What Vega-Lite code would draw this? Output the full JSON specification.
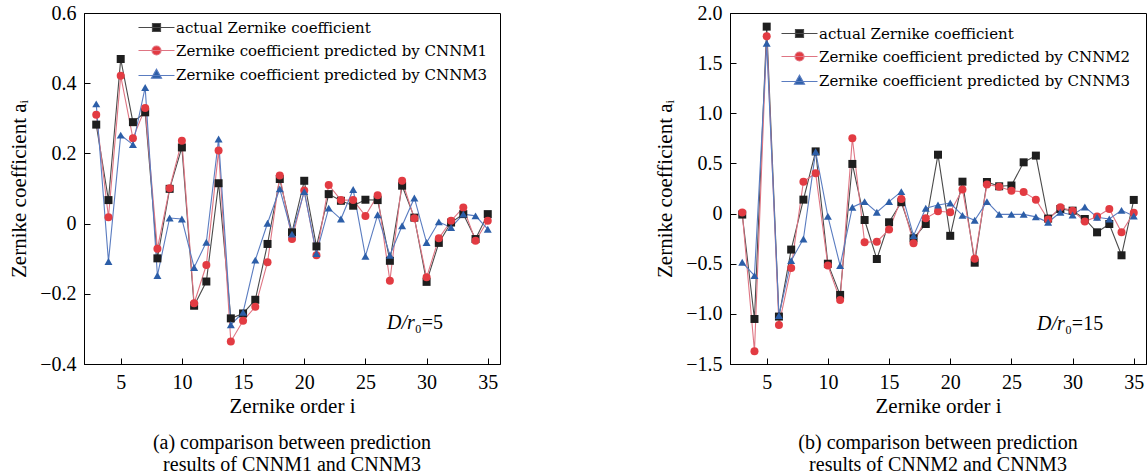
{
  "$schema": "https://vega.github.io/schema/vega-lite/v6.json",
  "background": "white",
  "bounds": "flush",
  "spacing": 230,
  "padding": {"left": 8, "top": 2, "right": 2, "bottom": 0},
  "config": {
    "font": "Liberation Serif",
    "view": {"stroke": "#000", "strokeWidth": 1},
    "axis": {
      "domainColor": "#000", "tickColor": "#000", "labelColor": "#000", "titleColor": "#000",
      "labelFont": "Liberation Serif", "titleFont": "Liberation Serif",
      "labelFontSize": 20, "titleFontSize": 21, "titleFontWeight": "normal",
      "grid": false, "tickSize": -6, "labelPadding": 14, "domainWidth": 1
    },
    "title": {
      "orient": "bottom", "anchor": "middle", "font": "Liberation Serif", "fontSize": 20,
      "fontWeight": "normal", "color": "#000", "offset": 17, "lineHeight": 22
    },
    "legend": {
      "orient": "none", "labelFont": "DejaVu Serif", "labelFontSize": 15, "labelLimit": 0,
      "labelColor": "#000", "symbolSize": 100, "symbolStrokeWidth": 1.2, "labelOffset": 12,
      "rowPadding": 7, "padding": 0, "symbolOpacity": 1
    }
  },
  "resolve": {
    "scale": {"fill": "independent", "stroke": "independent", "shape": "independent"},
    "legend": {"fill": "independent", "stroke": "independent", "shape": "independent"}
  },
  "hconcat": [
    {
      "width": 416,
      "height": 351,
      "title": {"text": ["(a) comparison between prediction", "results of CNNM1 and CNNM3"]},
      "data": {"values": [
        {"i": 3, "actual": 0.282, "CNNM1": 0.310, "CNNM3": 0.341},
        {"i": 4, "actual": 0.067, "CNNM1": 0.018, "CNNM3": -0.108},
        {"i": 5, "actual": 0.469, "CNNM1": 0.421, "CNNM3": 0.252},
        {"i": 6, "actual": 0.289, "CNNM1": 0.243, "CNNM3": 0.225},
        {"i": 7, "actual": 0.317, "CNNM1": 0.329, "CNNM3": 0.388},
        {"i": 8, "actual": -0.099, "CNNM1": -0.072, "CNNM3": -0.148},
        {"i": 9, "actual": 0.099, "CNNM1": 0.101, "CNNM3": 0.016},
        {"i": 10, "actual": 0.217, "CNNM1": 0.236, "CNNM3": 0.013},
        {"i": 11, "actual": -0.234, "CNNM1": -0.227, "CNNM3": -0.125},
        {"i": 12, "actual": -0.165, "CNNM1": -0.118, "CNNM3": -0.053},
        {"i": 13, "actual": 0.115, "CNNM1": 0.208, "CNNM3": 0.241},
        {"i": 14, "actual": -0.270, "CNNM1": -0.336, "CNNM3": -0.288},
        {"i": 15, "actual": -0.256, "CNNM1": -0.277, "CNNM3": -0.253},
        {"i": 16, "actual": -0.217, "CNNM1": -0.237, "CNNM3": -0.104},
        {"i": 17, "actual": -0.058, "CNNM1": -0.110, "CNNM3": 0.001},
        {"i": 18, "actual": 0.127, "CNNM1": 0.137, "CNNM3": 0.099},
        {"i": 19, "actual": -0.025, "CNNM1": -0.044, "CNNM3": -0.030},
        {"i": 20, "actual": 0.122, "CNNM1": 0.094, "CNNM3": 0.091},
        {"i": 21, "actual": -0.065, "CNNM1": -0.090, "CNNM3": -0.085},
        {"i": 22, "actual": 0.084, "CNNM1": 0.110, "CNNM3": 0.044},
        {"i": 23, "actual": 0.065, "CNNM1": 0.067, "CNNM3": 0.013},
        {"i": 24, "actual": 0.051, "CNNM1": 0.067, "CNNM3": 0.097},
        {"i": 25, "actual": 0.068, "CNNM1": 0.022, "CNNM3": -0.093},
        {"i": 26, "actual": 0.067, "CNNM1": 0.081, "CNNM3": 0.025},
        {"i": 27, "actual": -0.106, "CNNM1": -0.163, "CNNM3": -0.090},
        {"i": 28, "actual": 0.108, "CNNM1": 0.122, "CNNM3": -0.006},
        {"i": 29, "actual": 0.017, "CNNM1": 0.015, "CNNM3": 0.073},
        {"i": 30, "actual": -0.166, "CNNM1": -0.153, "CNNM3": -0.054},
        {"i": 31, "actual": -0.055, "CNNM1": -0.042, "CNNM3": 0.005},
        {"i": 32, "actual": 0.003, "CNNM1": 0.008, "CNNM3": -0.011},
        {"i": 33, "actual": 0.027, "CNNM1": 0.046, "CNNM3": 0.027},
        {"i": 34, "actual": -0.044, "CNNM1": -0.049, "CNNM3": 0.022},
        {"i": 35, "actual": 0.027, "CNNM1": 0.008, "CNNM3": -0.016}
      ]},
      "encoding": {
        "x": {"field": "i", "type": "quantitative",
          "scale": {"domain": [2, 36], "nice": false, "zero": false},
          "axis": {"values": [5, 10, 15, 20, 25, 30, 35], "title": "Zernike order i", "titlePadding": 3}},
        "y": {"field": "value", "type": "quantitative",
          "scale": {"domain": [-0.4, 0.6], "nice": false, "zero": false},
          "axis": {"values": [-0.4, -0.2, 0, 0.2, 0.4, 0.6], "labelExpr": "datum.value == 0 ? '0' : format(datum.value, '.1f')", "title": "Zernike coefficient aᵢ", "titlePadding": 10}}
      },
      "resolve": {"scale": {"fill": "independent", "stroke": "independent", "shape": "independent"}},
      "layer": [
        {
          "transform": [{"fold": ["actual", "CNNM1", "CNNM3"], "as": ["key", "value"]}],
          "mark": {"type": "line", "strokeWidth": 1.1},
          "encoding": {
            "stroke": {"field": "key", "type": "nominal",
              "scale": {"domain": ["actual", "CNNM1", "CNNM3"], "range": ["#4a4a4a", "#df7583", "#5a7cc0"]},
              "legend": null}
          }
        },
        {
          "transform": [{"fold": ["actual", "CNNM1", "CNNM3"], "as": ["key", "value"]}],
          "mark": {"type": "point", "filled": true, "size": 64, "opacity": 1},
          "encoding": {
            "fill": {"field": "key", "type": "nominal",
              "scale": {"domain": ["actual", "CNNM1", "CNNM3"], "range": ["#1e1e1e", "#e23b42", "#2c5ea8"]},
              "legend": null},
            "shape": {"field": "key", "type": "nominal",
              "scale": {"domain": ["actual", "CNNM1", "CNNM3"], "range": ["square", "circle", "triangle-up"]},
              "legend": null}
          }
        },
        {
          "transform": [{"fold": ["actual", "CNNM1", "CNNM3"], "as": ["key", "value"]}, {"filter": "false"}],
          "mark": {"type": "point", "filled": true, "opacity": 1},
          "encoding": {
            "fill": {"field": "key", "type": "nominal",
              "scale": {"domain": ["actual", "CNNM1", "CNNM3"], "range": ["#1e1e1e", "#e23b42", "#2c5ea8"]},
              "legend": {"title": null, "legendX": 65, "legendY": 7,
                "labelExpr": "datum.label == 'actual' ? 'actual Zernike coefficient' : 'Zernike coefficient predicted by ' + datum.label"}},
            "stroke": {"field": "key", "type": "nominal",
              "scale": {"domain": ["actual", "CNNM1", "CNNM3"], "range": ["#4a4a4a", "#df7583", "#5a7cc0"]},
              "legend": {"title": null, "legendX": 65, "legendY": 7,
                "labelExpr": "datum.label == 'actual' ? 'actual Zernike coefficient' : 'Zernike coefficient predicted by ' + datum.label"}},
            "shape": {"field": "key", "type": "nominal",
              "scale": {"domain": ["actual", "CNNM1", "CNNM3"], "range": [
                "M-3.6,0H3.6M-0.8,-0.8H0.8V0.8H-0.8Z",
                "M-3.6,0H3.6M-0.9,0A0.9,0.9,0,1,1,0.9,0A0.9,0.9,0,1,1,-0.9,0Z",
                "M-3.6,0.2H3.6M0,-1.05L1,0.75L-1,0.75Z"]},
              "legend": {"title": null, "legendX": 65, "legendY": 7,
                "labelExpr": "datum.label == 'actual' ? 'actual Zernike coefficient' : 'Zernike coefficient predicted by ' + datum.label"}}
          }
        },
        {
          "data": {"values": [{"i": 29.04, "value": -0.30, "t": "D/r"}]},
          "mark": {"type": "text", "align": "right", "baseline": "alphabetic", "fontSize": 20, "fontStyle": "italic", "font": "Liberation Serif", "color": "#000"},
          "encoding": {"text": {"field": "t"}}
        },
        {
          "data": {"values": [{"i": 29.04, "value": -0.30, "t": "₀=5"}]},
          "mark": {"type": "text", "align": "left", "baseline": "alphabetic", "fontSize": 20, "font": "Liberation Serif", "color": "#000"},
          "encoding": {"text": {"field": "t"}}
        }
      ]
    },
    {
      "width": 416,
      "height": 351,
      "title": {"text": ["(b) comparison between prediction", "results of CNNM2 and CNNM3"]},
      "data": {"values": [
        {"i": 3, "actual": -0.010, "CNNM2": 0.010, "CNNM3": -0.486},
        {"i": 4, "actual": -1.051, "CNNM2": -1.373, "CNNM3": -0.619},
        {"i": 5, "actual": 1.864, "CNNM2": 1.767, "CNNM3": 1.698},
        {"i": 6, "actual": -1.027, "CNNM2": -1.110, "CNNM3": -1.017},
        {"i": 7, "actual": -0.359, "CNNM2": -0.542, "CNNM3": -0.469},
        {"i": 8, "actual": 0.139, "CNNM2": 0.318, "CNNM3": -0.253},
        {"i": 9, "actual": 0.620, "CNNM2": 0.402, "CNNM3": 0.617},
        {"i": 10, "actual": -0.500, "CNNM2": -0.519, "CNNM3": -0.027},
        {"i": 11, "actual": -0.811, "CNNM2": -0.861, "CNNM3": -0.519},
        {"i": 12, "actual": 0.495, "CNNM2": 0.751, "CNNM3": 0.063},
        {"i": 13, "actual": -0.064, "CNNM2": -0.286, "CNNM3": 0.119},
        {"i": 14, "actual": -0.453, "CNNM2": -0.280, "CNNM3": 0.013},
        {"i": 15, "actual": -0.087, "CNNM2": -0.160, "CNNM3": 0.119},
        {"i": 16, "actual": 0.113, "CNNM2": 0.146, "CNNM3": 0.219},
        {"i": 17, "actual": -0.247, "CNNM2": -0.296, "CNNM3": -0.220},
        {"i": 18, "actual": -0.104, "CNNM2": -0.047, "CNNM3": 0.053},
        {"i": 19, "actual": 0.587, "CNNM2": 0.023, "CNNM3": 0.086},
        {"i": 20, "actual": -0.222, "CNNM2": 0.013, "CNNM3": 0.105},
        {"i": 21, "actual": 0.318, "CNNM2": 0.240, "CNNM3": -0.018},
        {"i": 22, "actual": -0.490, "CNNM2": -0.450, "CNNM3": -0.067},
        {"i": 23, "actual": 0.315, "CNNM2": 0.290, "CNNM3": 0.119},
        {"i": 24, "actual": 0.272, "CNNM2": 0.267, "CNNM3": -0.008},
        {"i": 25, "actual": 0.280, "CNNM2": 0.228, "CNNM3": -0.008},
        {"i": 26, "actual": 0.511, "CNNM2": 0.216, "CNNM3": -0.008},
        {"i": 27, "actual": 0.578, "CNNM2": 0.139, "CNNM3": -0.033},
        {"i": 28, "actual": -0.050, "CNNM2": -0.060, "CNNM3": -0.087},
        {"i": 29, "actual": 0.046, "CNNM2": 0.063, "CNNM3": 0.013},
        {"i": 30, "actual": 0.029, "CNNM2": 0.029, "CNNM3": -0.014},
        {"i": 31, "actual": -0.054, "CNNM2": -0.080, "CNNM3": 0.066},
        {"i": 32, "actual": -0.187, "CNNM2": -0.030, "CNNM3": -0.037},
        {"i": 33, "actual": -0.104, "CNNM2": 0.046, "CNNM3": -0.054},
        {"i": 34, "actual": -0.416, "CNNM2": -0.187, "CNNM3": 0.032},
        {"i": 35, "actual": 0.136, "CNNM2": 0.008, "CNNM3": -0.025}
      ]},
      "encoding": {
        "x": {"field": "i", "type": "quantitative",
          "scale": {"domain": [2, 36], "nice": false, "zero": false},
          "axis": {"values": [5, 10, 15, 20, 25, 30, 35], "title": "Zernike order i", "titlePadding": 3}},
        "y": {"field": "value", "type": "quantitative",
          "scale": {"domain": [-1.5, 2.0], "nice": false, "zero": false},
          "axis": {"values": [-1.5, -1.0, -0.5, 0, 0.5, 1.0, 1.5, 2.0], "labelExpr": "datum.value == 0 ? '0' : format(datum.value, '.1f')", "title": "Zernike coefficient aᵢ", "titlePadding": 10}}
      },
      "resolve": {"scale": {"fill": "independent", "stroke": "independent", "shape": "independent"}},
      "layer": [
        {
          "transform": [{"fold": ["actual", "CNNM2", "CNNM3"], "as": ["key", "value"]}],
          "mark": {"type": "line", "strokeWidth": 1.1},
          "encoding": {
            "stroke": {"field": "key", "type": "nominal",
              "scale": {"domain": ["actual", "CNNM2", "CNNM3"], "range": ["#4a4a4a", "#df7583", "#5a7cc0"]},
              "legend": null}
          }
        },
        {
          "transform": [{"fold": ["actual", "CNNM2", "CNNM3"], "as": ["key", "value"]}],
          "mark": {"type": "point", "filled": true, "size": 64, "opacity": 1},
          "encoding": {
            "fill": {"field": "key", "type": "nominal",
              "scale": {"domain": ["actual", "CNNM2", "CNNM3"], "range": ["#1e1e1e", "#e23b42", "#2c5ea8"]},
              "legend": null},
            "shape": {"field": "key", "type": "nominal",
              "scale": {"domain": ["actual", "CNNM2", "CNNM3"], "range": ["square", "circle", "triangle-up"]},
              "legend": null}
          }
        },
        {
          "transform": [{"fold": ["actual", "CNNM2", "CNNM3"], "as": ["key", "value"]}, {"filter": "false"}],
          "mark": {"type": "point", "filled": true, "opacity": 1},
          "encoding": {
            "fill": {"field": "key", "type": "nominal",
              "scale": {"domain": ["actual", "CNNM2", "CNNM3"], "range": ["#1e1e1e", "#e23b42", "#2c5ea8"]},
              "legend": {"title": null, "legendX": 62, "legendY": 13,
                "labelExpr": "datum.label == 'actual' ? 'actual Zernike coefficient' : 'Zernike coefficient predicted by ' + datum.label"}},
            "stroke": {"field": "key", "type": "nominal",
              "scale": {"domain": ["actual", "CNNM2", "CNNM3"], "range": ["#4a4a4a", "#df7583", "#5a7cc0"]},
              "legend": {"title": null, "legendX": 62, "legendY": 13,
                "labelExpr": "datum.label == 'actual' ? 'actual Zernike coefficient' : 'Zernike coefficient predicted by ' + datum.label"}},
            "shape": {"field": "key", "type": "nominal",
              "scale": {"domain": ["actual", "CNNM2", "CNNM3"], "range": [
                "M-3.6,0H3.6M-0.8,-0.8H0.8V0.8H-0.8Z",
                "M-3.6,0H3.6M-0.9,0A0.9,0.9,0,1,1,0.9,0A0.9,0.9,0,1,1,-0.9,0Z",
                "M-3.6,0.2H3.6M0,-1.05L1,0.75L-1,0.75Z"]},
              "legend": {"title": null, "legendX": 62, "legendY": 13,
                "labelExpr": "datum.label == 'actual' ? 'actual Zernike coefficient' : 'Zernike coefficient predicted by ' + datum.label"}}
          }
        },
        {
          "data": {"values": [{"i": 29.37, "value": -1.16, "t": "D/r"}]},
          "mark": {"type": "text", "align": "right", "baseline": "alphabetic", "fontSize": 20, "fontStyle": "italic", "font": "Liberation Serif", "color": "#000"},
          "encoding": {"text": {"field": "t"}}
        },
        {
          "data": {"values": [{"i": 29.37, "value": -1.16, "t": "₀=15"}]},
          "mark": {"type": "text", "align": "left", "baseline": "alphabetic", "fontSize": 20, "font": "Liberation Serif", "color": "#000"},
          "encoding": {"text": {"field": "t"}}
        }
      ]
    }
  ]
}
